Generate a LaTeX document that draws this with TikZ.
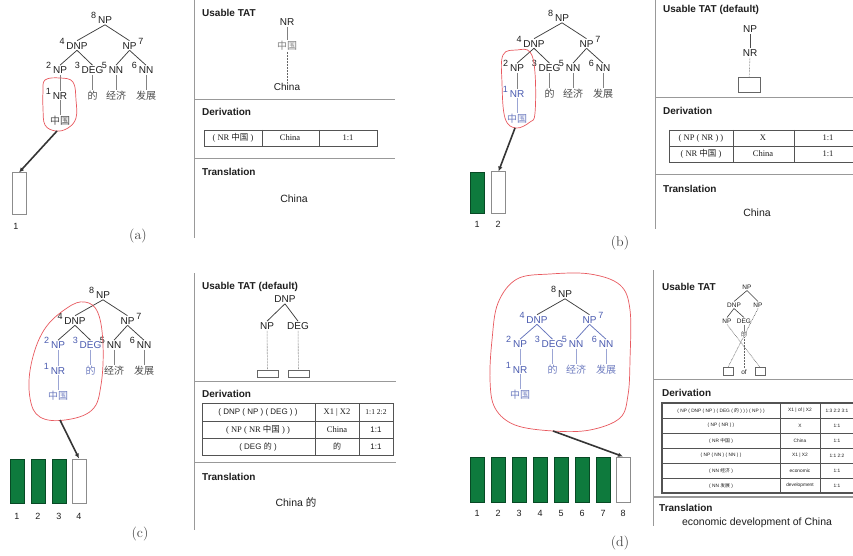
\documentclass[tikz,border=0pt]{standalone}
\usepackage{fontspec}
\newfontfamily\arial{Liberation Sans}
\newfontfamily\tnr{Liberation Serif}
\newfontfamily\cjk{Noto Sans CJK SC}
\usetikzlibrary{arrows.meta}

\definecolor{tblack}{HTML}{1E1E1E}
\definecolor{tblue}{HTML}{4A5BB0}
\definecolor{loopred}{HTML}{E8595F}
\definecolor{boxgreen}{HTML}{0E7A3D}
\definecolor{sepgray}{HTML}{999999}

\tikzset{
  tn/.style={inner sep=1pt, font=\arial\fontsize{10}{12}\selectfont, text height=7.2pt, text depth=0pt},
  cn/.style={inner sep=1pt, font=\cjk\fontsize{10}{12}\selectfont},
  num/.style={inner sep=0.5pt, font=\arial\fontsize{9}{10}\selectfont, yshift=4.5pt},
  br/.style={line width=0.75pt},
  vl/.style={line width=0.6pt},
  dotl/.style={line width=0.6pt, draw=gray!80!black, dash pattern=on 0.7pt off 0.8pt},
  redloop/.style={draw=loopred, line width=0.7pt},
  arr/.style={draw=tblack!90, line width=1.6pt, -{Latex[length=5pt,width=4.5pt]}},
  gbox/.style={draw=boxgreen!60!black, fill=boxgreen, minimum width=14pt, minimum height=41pt, inner sep=0pt, line width=0.6pt},
  wbox/.style={draw=gray!90, fill=white, minimum width=14pt, minimum height=41pt, inner sep=0pt, line width=1pt},
  bnum/.style={inner sep=0.5pt, font=\arial\fontsize{9}{10}\selectfont, text=tblack},
  plabel/.style={inner sep=0pt, font=\fontsize{14}{16}\selectfont, text=tblack!85},
  sep/.style={draw=sepgray, line width=1pt},
  hdr/.style={anchor=west, inner sep=0pt, font=\arial\bfseries\fontsize{10}{12}\selectfont, text=tblack},
  trans/.style={inner sep=0pt, font=\arial\fontsize{10.5}{12}\selectfont, text=tblack},
  tatbox/.style={draw=gray!80!black, line width=0.6pt, inner sep=0pt, fill=white},
  tbl/.style={draw=gray!65!black, line width=0.8pt},
  tcell/.style={inner sep=0pt, font=\tnr\fontsize{8.5}{10}\selectfont, text=tblack},
  scell/.style={inner sep=0pt, font=\arial\fontsize{8}{10}\selectfont, text=tblack},
  dcell/.style={inner sep=0pt, font=\arial\fontsize{4.8}{5.5}\selectfont, text=tblack},
  tns/.style={inner sep=0.8pt, font=\arial\fontsize{6.5}{7}\selectfont, text height=5pt, text depth=0pt, text=tblack},
}

% #1 origin, #2 prefix, #3 NR colour, #4 NP2 colour, #5 DEG colour, #6 DNP colour, #7 NP7 colour
\newcommand{\parsetree}[7]{%
\begin{scope}[shift={#1}, name prefix=#2-]
  \node[tn, text=tblack, label={[num,text=tblack]west:8}] (np8) at (0,0) {NP};
  \node[tn, text=#6, label={[num,text=#6]west:4}] (dnp4) at (-28,25.5) {DNP};
  \node[tn, text=#7, label={[num,text=#7]east:7}] (np7) at (24.5,25.5) {NP};
  \node[tn, text=#4, label={[num,text=#4]west:2}] (np2) at (-45,50) {NP};
  \node[tn, text=#5, label={[num,text=#5]west:3}] (deg3) at (-12.5,50) {DEG};
  \node[tn, text=#7, label={[num,text=#7]west:5}] (nn5) at (11,50) {NN};
  \node[tn, text=#7, label={[num,text=#7]west:6}] (nn6) at (41,50) {NN};
  \node[tn, text=#3, label={[num,text=#3]west:1}] (nr1) at (-45,75.5) {NR};
  \node[cn, text=#3!80!white] (zg) at (-45,100.5) {中国};
  \node[cn, text=#5!80!white] (de) at (-12.5,75.5) {的};
  \node[cn, text=#7!80!white] (jj) at (11,75.5) {经济};
  \node[cn, text=#7!80!white] (fz) at (41,75.5) {发展};
  \draw[br, draw=tblack!85] (np8.south) -- (dnp4.north);
  \draw[br, draw=tblack!85] (np8.south) -- (np7.north);
  \draw[br, draw=#6!85] (dnp4.south) -- (np2.north);
  \draw[br, draw=#6!85] (dnp4.south) -- (deg3.north);
  \draw[br, draw=#7!85] (np7.south) -- (nn5.north);
  \draw[br, draw=#7!85] (np7.south) -- (nn6.north);
  \draw[vl, draw=#4!55!white] (np2) -- (nr1);
  \draw[vl, draw=#3!55!white] (nr1) -- (zg);
  \draw[vl, draw=#5!55!white] (deg3) -- (de);
  \draw[vl, draw=#7!55!white] (nn5) -- (jj);
  \draw[vl, draw=#7!55!white] (nn6) -- (fz);
\end{scope}}

\begin{document}
\begin{tikzpicture}[x=1pt, y=-1pt]
\useasboundingbox[fill=white] (0,0) rectangle (853,556);

% ---------------- parse trees ----------------
\parsetree{(105,20)}{a}{tblack}{tblack}{tblack}{tblack}{tblack}
\parsetree{(562,18)}{b}{tblue}{tblack}{tblack}{tblack}{tblack}
\parsetree{(103,295)}{c}{tblue}{tblue}{tblue}{tblack}{tblack}
\parsetree{(565,294)}{d}{tblue}{tblue}{tblue}{tblue}{tblue}

% ---------------- red loops ----------------
\draw[redloop] plot[smooth cycle, tension=0.65] coordinates {(45,80) (60,78) (73,82) (76,100) (76,118) (68,128) (56,131) (45,125) (43,108) (43,92)};
\draw[redloop] plot[smooth cycle, tension=0.65] coordinates {(503,55) (517,50) (530,52) (535,73) (535,113) (530,122) (516,128) (505,118) (502,83)};
\draw[redloop] plot[smooth cycle, tension=0.65] coordinates {(67,308) (85,302) (98,313) (103,345) (101,385) (92,410) (65,420) (40,417) (30,398) (31,365) (44,330)};
\draw[redloop] plot[smooth cycle, tension=0.6] coordinates {(517,279) (550,274) (590,274) (620,285) (630,310) (630,360) (628,395) (620,418) (590,430) (553,431) (515,425) (495,408) (490,380) (492,340) (498,303)};

\coordinate (a-ls) at (57,131);
\coordinate (b-ls) at (515,128);
\coordinate (c-ls) at (60,420);
\coordinate (d-ls) at (553,431);

% ---------------- stacks ----------------
\node[wbox] (a-box1) at (19,193.5) {};
\node[bnum] (a-n1) at (16,226) {1};

\node[gbox] (b-box1) at (477.5,192.5) {};
\node[wbox] (b-box2) at (498.5,192.5) {};
\node[bnum] (b-n1) at (477,224) {1};
\node[bnum] (b-n2) at (498,224) {2};

\foreach \i/\xx in {1/17,2/38,3/59}{
  \node[gbox, minimum height=44pt] (c-box\i) at (\xx,481) {};
  \node[bnum] (c-n\i) at (\xx,516) {\i};
}
\node[wbox, minimum height=44pt] (c-box4) at (79,481) {};
\node[bnum] (c-n4) at (79,516) {4};

\foreach \i in {1,...,7}{
  \node[gbox, minimum height=45pt] (d-box\i) at ({456+21*\i},479.5) {};
  \node[bnum] (d-n\i) at ({456+21*\i},513) {\i};
}
\node[wbox, minimum height=45pt] (d-box8) at (623,479.5) {};
\node[bnum] (d-n8) at (623,513) {8};

\draw[arr] (a-ls) -- (a-box1.north);
\draw[arr] (b-ls) -- (b-box2.north);
\draw[arr] (c-ls) -- (c-box4.north);
\draw[arr] (d-ls) -- (d-box8.north);

\node[plabel] (a-lab) at (138,236) {(a)};
\node[plabel] (b-lab) at (620,243) {(b)};
\node[plabel] (c-lab) at (140,534) {(c)};
\node[plabel] (d-lab) at (620,543) {(d)};

% ================= panel (a) right =================
\draw[sep] (194,0) -- (194,238);
\draw[sep] (194,100) -- (395,100);
\draw[sep] (194,159) -- (395,159);
\node[hdr] (a-h1) at (202,13) {Usable TAT};
\node[hdr] (a-h2) at (202,112) {Derivation};
\node[hdr] (a-h3) at (202,172) {Translation};
\node[tn, text=tblack] (a-t-nr) at (287,22) {NR};
\node[cn, text=gray] (a-t-zg) at (287,46) {中国};
\node[tn, text=tblack] (a-t-ch) at (287,87) {China};
\draw[vl, draw=gray] (a-t-nr) -- (a-t-zg);
\draw[dotl] (a-t-zg) -- (a-t-ch);
\draw[tbl] (204,130) rectangle (377,146);
\draw[tbl] (262,130) -- (262,146);
\draw[tbl] (319,130) -- (319,146);
\node[tcell] (a-c11) at (233,138) {( NR {\cjk 中国} )};
\node[tcell] (a-c12) at (290,138) {China};
\node[tcell] (a-c13) at (348,138) {1:1};
\node[trans] (a-tr) at (294,199) {China};

% ================= panel (b) right =================
\draw[sep] (655,0) -- (655,229);
\draw[sep] (655,98) -- (853,98);
\draw[sep] (655,175) -- (853,175);
\node[hdr] (b-h1) at (663,10) {Usable TAT (default)};
\node[hdr] (b-h2) at (663,111) {Derivation};
\node[hdr] (b-h3) at (663,189) {Translation};
\node[tn, text=tblack] (b-t-np) at (750,29) {NP};
\node[tn, text=tblack] (b-t-nr) at (750,53) {NR};
\node[tatbox, minimum width=22pt, minimum height=15pt] (b-t-box) at (749,84.5) {};
\draw[vl, draw=tblack!80] (b-t-np) -- (b-t-nr);
\draw[dotl] (b-t-nr) -- (b-t-box);
\draw[tbl] (669,130) -- (853,130);
\draw[tbl] (669,146) -- (853,146);
\draw[tbl] (669,162) -- (853,162);
\draw[tbl] (669,130) -- (669,162);
\draw[tbl] (733,130) -- (733,162);
\draw[tbl] (794,130) -- (794,162);
\node[tcell] (b-c11) at (701,138) {( NP ( NR ) )};
\node[tcell] (b-c12) at (763,138) {X};
\node[tcell] (b-c13) at (828,138) {1:1};
\node[tcell] (b-c21) at (701,154) {( NR {\cjk 中国} )};
\node[tcell] (b-c22) at (763,154) {China};
\node[tcell] (b-c23) at (828,154) {1:1};
\node[trans] (b-tr) at (757,213) {China};

% ================= panel (c) right =================
\draw[sep] (194,273) -- (194,530);
\draw[sep] (194,381) -- (396,381);
\draw[sep] (194,462) -- (396,462);
\node[hdr] (c-h1) at (202,287) {Usable TAT (default)};
\node[hdr] (c-h2) at (202,394) {Derivation};
\node[hdr] (c-h3) at (202,477) {Translation};
\node[tn, text=tblack] (c-t-dnp) at (285,299) {DNP};
\node[tn, text=tblack] (c-t-np) at (267,326) {NP};
\node[tn, text=tblack] (c-t-deg) at (298,326) {DEG};
\node[tatbox, minimum width=21pt, minimum height=7pt] (c-t-b1) at (267.5,373.5) {};
\node[tatbox, minimum width=21pt, minimum height=7pt] (c-t-b2) at (298.5,373.5) {};
\draw[br, draw=tblack!85] (c-t-dnp.south) -- (c-t-np.north);
\draw[br, draw=tblack!85] (c-t-dnp.south) -- (c-t-deg.north);
\draw[dotl] (c-t-np) -- (c-t-b1);
\draw[dotl] (c-t-deg) -- (c-t-b2);
\draw[tbl] (202,403) rectangle (393,455);
\draw[tbl] (202,421) -- (393,421);
\draw[tbl] (202,438) -- (393,438);
\draw[tbl] (315,403) -- (315,455);
\draw[tbl] (359,403) -- (359,455);
\node[scell] (c-c11) at (258,412) {( DNP ( NP ) ( DEG ) )};
\node[tcell] (c-c12) at (337,412) {X1 | X2};
\node[tcell, font=\tnr\fontsize{7.5}{9}\selectfont] (c-c13) at (376,412) {1:1 2:2};
\node[tcell] (c-c21) at (258,429.5) {( NP ( NR {\cjk 中国} ) )};
\node[tcell] (c-c22) at (337,429.5) {China};
\node[scell] (c-c23) at (376,429.5) {1:1};
\node[scell] (c-c31) at (258,446.5) {( DEG {\cjk 的} )};
\node[scell] (c-c32) at (337,446.5) {{\cjk 的}};
\node[scell] (c-c33) at (376,446.5) {1:1};
\node[trans] (c-tr) at (296,502) {China {\cjk 的}};

% ================= panel (d) right =================
\draw[sep] (653,270) -- (653,526);
\draw[sep] (653,379) -- (853,379);
\draw[sep, line width=1.6pt] (653,497) -- (853,497);
\node[hdr] (d-h1) at (662,287) {Usable TAT};
\node[hdr] (d-h2) at (662,393) {Derivation};
\node[hdr] (d-h3) at (659,508) {Translation};
\node[tns] (d-t-np) at (747,287) {NP};
\node[tns] (d-t-dnp) at (734,305) {DNP};
\node[tns] (d-t-npr) at (758,305) {NP};
\node[tns] (d-t-np2) at (727,321) {NP};
\node[tns] (d-t-deg) at (744,321) {DEG};
\node[inner sep=0.5pt, font=\cjk\fontsize{6}{7}\selectfont, text=tblack!80] (d-t-de) at (744,334) {的};
\node[tatbox, minimum width=10pt, minimum height=8pt] (d-t-b1) at (728,371.5) {};
\node[tatbox, minimum width=10pt, minimum height=8pt] (d-t-b2) at (760,371.5) {};
\node[tns] (d-t-of) at (744,371.5) {of};
\draw[vl, draw=tblack!85] (d-t-np.south) -- (d-t-dnp.north);
\draw[vl, draw=tblack!85] (d-t-np.south) -- (d-t-npr.north);
\draw[vl, draw=tblack!85] (d-t-dnp.south) -- (d-t-np2.north);
\draw[vl, draw=tblack!85] (d-t-dnp.south) -- (d-t-deg.north);
\draw[vl, draw=tblack!60] (d-t-deg) -- (d-t-de);
\draw[dotl] (d-t-np2.south) -- (d-t-b2.north);
\draw[dotl] (d-t-npr.south) -- (d-t-b1.north);
\draw[dotl] (d-t-de.south) -- (d-t-of.north);
% table
\draw[tbl, line width=1.4pt] (853,403) -- (662,403) -- (662,493) -- (853,493);
\foreach \yy in {418,433,448,463,478}{ \draw[tbl, line width=0.6pt] (662,\yy) -- (853,\yy); }
\draw[tbl, line width=0.6pt] (780,403) -- (780,493);
\draw[tbl, line width=0.6pt] (820,403) -- (820,493);
\node[dcell] (d-c11) at (721,410.5) {( NP ( DNP ( NP ) ( DEG ( {\cjk 的} ) ) ) ( NP ) )};
\node[dcell] (d-c12) at (800,410.5) {X1 | of | X2};
\node[dcell] (d-c13) at (837,410.5) {1:3 2:2 3:1};
\node[dcell] (d-c21) at (721,425.5) {( NP ( NR ) )};
\node[dcell] (d-c22) at (800,425.5) {X};
\node[dcell] (d-c23) at (837,425.5) {1:1};
\node[dcell] (d-c31) at (721,440.5) {( NR {\cjk 中国} )};
\node[dcell] (d-c32) at (800,440.5) {China};
\node[dcell] (d-c33) at (837,440.5) {1:1};
\node[dcell] (d-c41) at (721,455.5) {( NP ( NN ) ( NN ) )};
\node[dcell] (d-c42) at (800,455.5) {X1 | X2};
\node[dcell] (d-c43) at (837,455.5) {1:1 2:2};
\node[dcell] (d-c51) at (721,470.5) {( NN {\cjk 经济} )};
\node[dcell] (d-c52) at (800,470.5) {economic};
\node[dcell] (d-c53) at (837,470.5) {1:1};
\node[dcell] (d-c61) at (721,485.5) {( NN {\cjk 发展} )};
\node[dcell] (d-c62) at (800,485.5) {development};
\node[dcell] (d-c63) at (837,485.5) {1:1};
\node[trans] (d-tr) at (757,523) {economic development of China};
\end{tikzpicture}
\end{document}
